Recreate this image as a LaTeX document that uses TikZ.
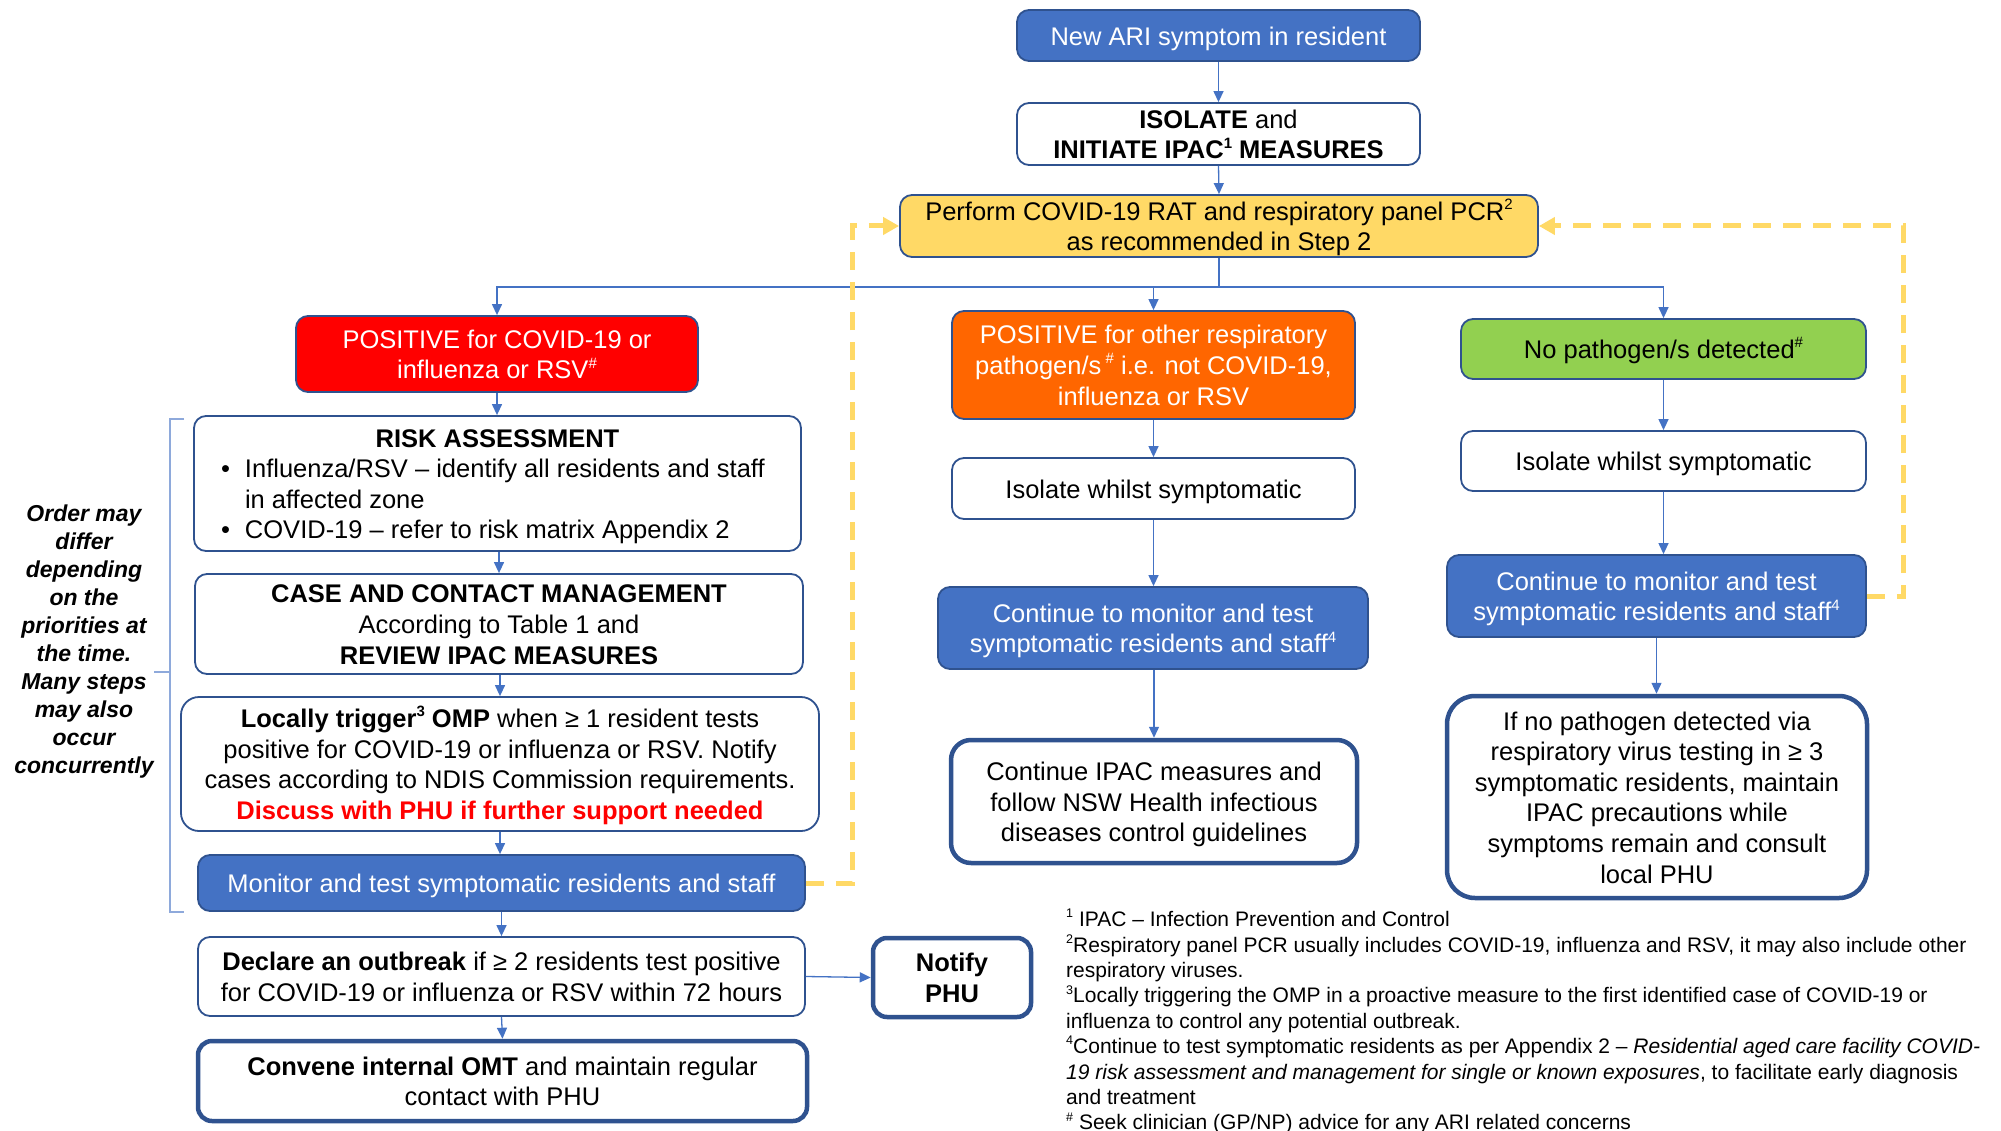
\documentclass[tikz,border=0pt]{standalone}
\usepackage{fontspec}
\setmainfont{Liberation Sans}
\usetikzlibrary{arrows.meta}
\definecolor{blueF}{HTML}{4472C4}
\definecolor{bdr}{HTML}{2F528F}
\definecolor{yell}{HTML}{FFD966}
\definecolor{redF}{HTML}{FF0000}
\definecolor{orangeF}{HTML}{FF6600}
\definecolor{greenF}{HTML}{92D050}
\definecolor{brk}{HTML}{8EA9DB}
\newcommand\mainfs{\fontsize{25.5}{30.6}\selectfont}
\newcommand\bs{\rule[-0.21em]{0pt}{1.17em}}
\newcommand\sups[1]{\raisebox{0.42em}{\fontsize{15}{15}\selectfont #1}}
\newcommand\supf[1]{\raisebox{0.42em}{\fontsize{12.5}{12.5}\selectfont #1}}
\begin{document}
\begin{tikzpicture}[x=1pt,y=-1pt,
  box/.style={draw=bdr, line width=1.8pt, rounded corners=12pt, align=center, inner sep=0pt, font=\mainfs, fill=white},
  bluebox/.style={box, fill=blueF, text=white},
  thickbox/.style={box, line width=4.5pt, rounded corners=20pt},
  sz/.style 2 args={minimum width=#1pt, minimum height=#2pt},
  conn/.style={draw=blueF, line width=1.3pt},
  arr/.style={conn, -{Triangle[width=10pt,length=11pt]}},
  ydash/.style={draw=yell, line width=5pt, dash pattern=on 18pt off 12pt, -{Triangle[width=17pt,length=16pt]}},
  brkline/.style={draw=brk, line width=1.5pt}
]
\fill[white] (0,0) rectangle (2001,1131);
\useasboundingbox (0,0) rectangle (2001,1131);

% top
\node[bluebox, sz={403}{51}] (ari) at (1218.5,35.5) {\bs New ARI symptom in resident\bs};
\node[box, sz={403}{62}] (iso) at (1218.5,134) {\bs\textbf{ISOLATE} and\\\textbf{INITIATE IPAC\sups{1} MEASURES}\bs};
\node[box, fill=yell, sz={638}{62}] (perform) at (1219,226) {\bs Perform COVID-19 RAT and respiratory panel PCR\sups{2}\\as recommended in Step 2\bs};

% results
\node[box, fill=redF, text=white, sz={402}{76}] (red) at (497,354) {\bs POSITIVE for COVID-19 or\\influenza or RSV\sups{\#}\bs};
\node[box, fill=orangeF, text=white, sz={403}{108}] (orange) at (1153.5,365) {\bs POSITIVE for other respiratory\\pathogen/s\,\sups{\#} i.e. not COVID-19,\\influenza or RSV\bs};
\node[box, fill=greenF, sz={405}{60}] (green) at (1663.5,349) {\bs No pathogen/s detected\sups{\#}\bs};

% left column
\node[box, text width=553pt, inner xsep=27pt, minimum height=135pt, align=none] (risk) at (497.5,483.5) {%
  {\centering\bs\textbf{RISK ASSESSMENT}\par}%
  \raggedright
  \hangindent=24pt\hangafter=1\noindent\makebox[24pt][l]{•}Influenza/RSV – identify all residents and staff\newline in affected zone\par
  \noindent\makebox[24pt][l]{•}COVID-19 – refer to risk matrix Appendix 2\bs\par};
\node[box, sz={608}{100}] (case) at (499,624) {\bs\textbf{CASE AND CONTACT MANAGEMENT}\\According to Table 1 and\\\textbf{REVIEW IPAC MEASURES}\bs};
\node[box, sz={638}{134}, rounded corners=18pt] (local) at (500,764) {\bs\textbf{Locally trigger\sups{3} OMP} when ≥ 1 resident tests\\positive for COVID-19 or influenza or RSV. Notify\\cases according to NDIS Commission requirements.\\\textcolor{redF}{\textbf{Discuss with PHU if further support needed}}\bs};
\node[bluebox, sz={607}{56}] (monitor) at (501.5,883) {\bs Monitor and test symptomatic residents and staff\bs};
\node[box, sz={607}{79}] (declare) at (501.5,976.5) {\bs\textbf{Declare an outbreak} if ≥ 2 residents test positive\\for COVID-19 or influenza or RSV within 72 hours\bs};
\node[thickbox, sz={609}{80}, rounded corners=14pt] (convene) at (502.5,1081) {\bs\textbf{Convene internal OMT} and maintain regular\\contact with PHU\bs};
\node[thickbox, sz={158}{79}, rounded corners=14pt] (notify) at (952,977.5) {\bs\textbf{Notify}\\\textbf{PHU}\bs};

% middle column
\node[box, sz={403}{61}] (iso2) at (1153.5,488.5) {\bs Isolate whilst symptomatic\bs};
\node[bluebox, sz={430}{82}] (cont2) at (1153,628) {\bs Continue to monitor and test\\symptomatic residents and staff\sups{4}\bs};
\node[thickbox, sz={406}{123}] (ipac) at (1154,801.5) {\bs Continue IPAC measures and\\follow NSW Health infectious\\diseases control guidelines\bs};

% right column
\node[box, sz={405}{60}] (iso3) at (1663.5,461) {\bs Isolate whilst symptomatic\bs};
\node[bluebox, sz={419}{82}] (cont3) at (1656.5,596) {\bs Continue to monitor and test\\symptomatic residents and staff\sups{4}\bs};
\node[thickbox, sz={420}{202}, rounded corners=28pt] (nopath) at (1657,797) {\bs If no pathogen detected via\\respiratory virus testing in ≥ 3\\symptomatic residents, maintain\\IPAC precautions while\\symptoms remain and consult\\local PHU\bs};

% side note
\node[align=center, inner sep=0pt, font=\fontsize{23}{28}\selectfont\bfseries\itshape] (order) at (84,642) {Order may\\differ\\depending\\on the\\priorities at\\the time.\\Many steps\\may also\\occur\\concurrently};
\draw[brkline] (184,419) -- (170,419) -- (170,912) -- (184,912);
\draw[brkline] (154,672) -- (170,672);

% footnotes
\node[align=left, anchor=north west, inner sep=0pt, font=\fontsize{21}{25.4}\selectfont] (notes) at (1066,909) {%
\supf{1} IPAC – Infection Prevention and Control\\
\supf{2}Respiratory panel PCR usually includes COVID-19, influenza and RSV, it may also include other\\
respiratory viruses.\\
\supf{3}Locally triggering the OMP in a proactive measure to the first identified case of COVID-19 or\\
influenza to control any potential outbreak.\\
\supf{4}Continue to test symptomatic residents as per Appendix 2 – \textit{Residential aged care facility COVID-}\\
\textit{19 risk assessment and management for single or known exposures}, to facilitate early diagnosis\\
and treatment\\
\supf{\#} Seek clinician (GP/NP) advice for any ARI related concerns};

% connectors
\draw[arr] (ari.south) -- (iso.north);
\draw[arr] (iso.south) -- (perform.north);
\coordinate (sp) at (1219,287);
\draw[conn] (perform.south) -- (sp);
\draw[arr] (sp) -| (red.north);
\draw[arr] (sp) -| (green.north);
\draw[arr] (orange.north |- sp) -- (orange.north);

\draw[arr] (red.south) -- (red.south |- risk.north);
\draw[arr] (case.north |- risk.south) -- (case.north);
\draw[arr] (local.north |- case.south) -- (local.north);
\draw[arr] (local.south) -- (local.south |- monitor.north);
\draw[arr] (monitor.south) -- (declare.north);
\draw[arr] (declare.south) -- (convene.north);
\draw[arr] (declare.east) -- (notify.west);

\draw[arr] (orange.north |- orange.south) -- (iso2.north);
\draw[arr] (iso2.south) -- (iso2.south |- cont2.north);
\draw[arr] (ipac.north |- cont2.south) -- (ipac.north);

\draw[arr] (green.south) -- (iso3.north);
\draw[arr] (iso3.south) -- (iso3.south |- cont3.north);
\draw[arr] (cont3.south) -- (cont3.south |- nopath.north);

\draw[ydash] (monitor.east) -- ++(47,0) |- (perform.west);
\draw[ydash] (cont3.east) -- ++(37,0) |- (perform.east);
\end{tikzpicture}
\end{document}
